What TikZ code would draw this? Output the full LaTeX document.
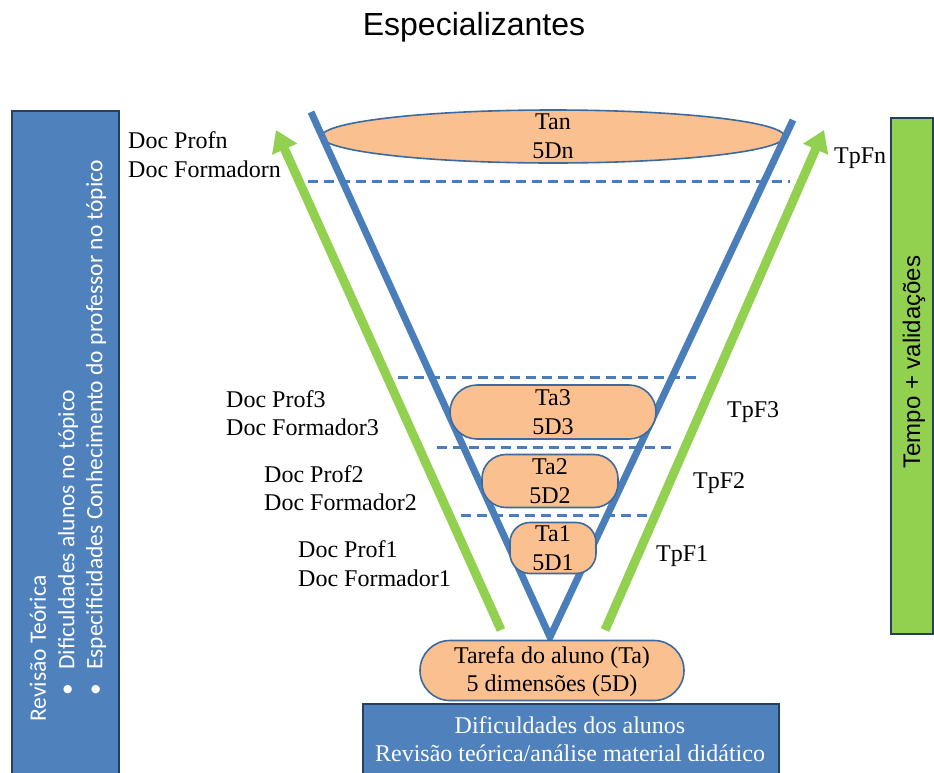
\documentclass[tikz,border=0pt]{standalone}
\usepackage{fontspec}
\setmainfont{Liberation Serif}
\newfontfamily\arialf{Liberation Sans}
\newfontfamily\calibf{Carlito}
\usetikzlibrary{arrows.meta,shapes.geometric}
\definecolor{boxblue}{HTML}{4F81BD}
\definecolor{darkedge}{HTML}{243F60}
\definecolor{vblue}{HTML}{4A7EBB}
\definecolor{peach}{HTML}{FAC090}
\definecolor{peachedge}{HTML}{3D6A9E}
\definecolor{lgreen}{HTML}{92D050}
\begin{document}
\begin{tikzpicture}[x=1pt,y=-1pt,
 txt/.style={font=\fontsize{24}{28.5}\selectfont, inner sep=0pt, align=left},
 ctxt/.style={font=\fontsize{24}{28.5}\selectfont, inner sep=0pt, align=center},
 pill/.style={draw=peachedge, line width=1.6pt, fill=peach, inner sep=0pt, rectangle},
 vline/.style={draw=vblue, line width=7pt},
 dline/.style={draw=vblue, line width=3pt, dash pattern=on 10pt off 6pt},
 garrow/.style={draw=lgreen, line width=9pt, -{Triangle[width=26pt,length=21pt]}},
 sidebox/.style={draw=darkedge, line width=1.5pt, inner sep=0pt, anchor=north west},
 sidetxt/.style={rotate=90, anchor=west, inner sep=0pt, text=white, font=\calibf\fontsize{23.5}{28}\selectfont},
]
\useasboundingbox (0,0) rectangle (934,772);
\fill[white] (0,0) rectangle (934,772);

% side boxes
\node[sidebox, fill=boxblue, minimum width=107pt, minimum height=690pt] (leftbox) at (11,110) {};
\node[sidebox, fill=lgreen, minimum width=42pt, minimum height=516pt] (rightbox) at (890,117) {};
\node[sidebox, fill=boxblue, minimum width=416pt, minimum height=90pt] (bottombox) at (362,703) {};

% title
\node[font=\arialf\fontsize{32}{38}\selectfont, inner sep=0pt] (title) at (474,27) {Especializantes};

% top ellipse
\node[ellipse, draw=peachedge, line width=1.6pt, fill=peach, minimum width=463pt, minimum height=53pt, inner sep=0pt] (tan) at (553,136.5) {};

% V lines
\coordinate (vl) at (311,112);
\coordinate (vr) at (793,120);
\coordinate (vb) at (550,637);
\draw[vline] (vl) -- (vb) -- (vr);

% dashed lines
\coordinate (d1a) at (308,181); \coordinate (d1b) at (790,181);
\coordinate (d2a) at (398,377); \coordinate (d2b) at (702,377);
\coordinate (d3a) at (437,447); \coordinate (d3b) at (673,447);
\coordinate (d4a) at (461,515); \coordinate (d4b) at (649,515);
\draw[dline] (d1a) -- (d1b);
\draw[dline] (d2a) -- (d2b);
\draw[dline] (d3a) -- (d3b);
\draw[dline] (d4a) -- (d4b);

% green arrows
\coordinate (gl0) at (501,630); \coordinate (gl1) at (276,130);
\coordinate (gr0) at (605,630); \coordinate (gr1) at (824,130);
\draw[garrow] (gl0) -- (gl1);
\draw[garrow] (gr0) -- (gr1);

% pills
\node[pill, minimum width=206pt, minimum height=54pt, rounded corners=27pt] (ta3) at (553,412) {};
\node[pill, minimum width=136pt, minimum height=53pt, rounded corners=24pt] (ta2) at (550,481) {};
\node[pill, minimum width=86pt, minimum height=51pt, rounded corners=20pt] (ta1) at (553,548) {};
\node[pill, minimum width=264pt, minimum height=60pt, rounded corners=30pt] (tarefa) at (552,670.5) {};

% pill texts
\node[ctxt] (tantxt) at (tan.center) {Tan\\5Dn};
\node[ctxt] (ta3txt) at (ta3.center) {Ta3\\5D3};
\node[ctxt] (ta2txt) at (ta2.center) {Ta2\\5D2};
\node[ctxt] (ta1txt) at (ta1.center) {Ta1\\5D1};
\node[ctxt] (tarefatxt) at (552,671.5) {Tarefa do aluno (Ta)\\5 dimensões (5D)};
\node[ctxt, text=white] (bottomtxt) at (570,739) {Dificuldades dos alunos\\Revisão teórica/análise material didático};

% labels
\node[txt, anchor=west] (docn) at (128,154.5) {Doc Profn\\Doc Formadorn};
\node[txt, anchor=west] (doc3) at (226,413) {Doc Prof3\\Doc Formador3};
\node[txt, anchor=west] (doc2) at (264,488) {Doc Prof2\\Doc Formador2};
\node[txt, anchor=west] (doc1) at (298,563.5) {Doc Prof1\\Doc Formador1};
\node[txt, anchor=west] (tpfn) at (834,158) {TpFn};
\node[txt, anchor=west] (tpf3) at (727,412) {TpF3};
\node[txt, anchor=west] (tpf2) at (693,483) {TpF2};
\node[txt, anchor=west] (tpf1) at (656,556) {TpF1};

% left box text
\node[sidetxt] (rev) at (38,722) {Revisão Teórica};
\node[sidetxt] (dif) at (68,696) {\makebox[26pt][l]{•}Dificuldades alunos no tópico};
\node[sidetxt] (esp) at (96,696) {\makebox[26pt][l]{•}Especificidades Conhecimento do professor no tópico};

% right box text
\node[rotate=90, inner sep=0pt, font=\arialf\fontsize{24}{28}\selectfont] (tempo) at (914,362) {Tempo + validações};
\end{tikzpicture}
\end{document}
